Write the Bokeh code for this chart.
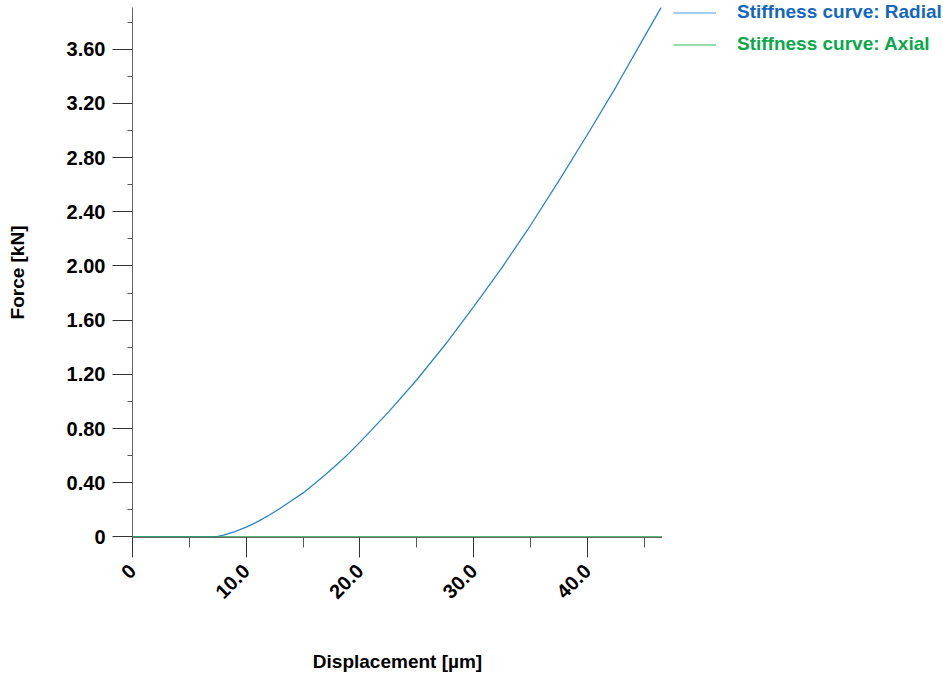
import math
from bokeh.plotting import figure
from bokeh.models import (Range1d, FixedTicker, CustomJSTickFormatter,
                          Legend, LegendItem, Label)
from bokeh.layouts import row, column
from bokeh.embed import file_html
from bokeh.resources import INLINE

# Displacement [µm] and force [kN] values
radial_x = [0, 5, 7, 7.5, 8, 9, 10, 11, 12, 13, 14, 15, 16, 17, 18, 19, 20,
            22.5, 25, 27.5, 30, 32.5, 35, 37.5, 40, 42.5, 45, 46.5]
radial_f = [0, 0, 0, 0.0045, 0.013, 0.039, 0.072, 0.113, 0.160, 0.212, 0.269,
            0.325, 0.392, 0.462, 0.537, 0.615, 0.70,
            0.921, 1.16, 1.42, 1.70, 1.99, 2.30, 2.63, 2.97, 3.32, 3.69, 3.91]
axial_x = [0, 46.6]
axial_f = [0, 0]

x_major = [0, 10, 20, 30, 40]
x_minor = [5, 15, 25, 35, 45]
y_major = [0, 0.4, 0.8, 1.2, 1.6, 2.0, 2.4, 2.8, 3.2, 3.6]
y_minor = [0.2, 0.6, 1.0, 1.4, 1.8, 2.2, 2.6, 3.0, 3.4, 3.8]

series_names = ["Stiffness curve: Radial", "Stiffness curve: Axial"]
line_colors = ["#2a84d2", "#1e9e4c"]
legend_line_colors = ["#4a9be0", "#2fbf5a"]
text_colors = ["#1467c0", "#0aa84a"]
x_title = "Displacement [µm]"
y_title = "Force [kN]"

FONT = "Liberation Sans"
NAN = float("nan")

# ---------------- main chart ----------------
p = figure(width=662, height=640, output_backend="svg", toolbar_location=None,
           x_range=Range1d(0, 46.6), y_range=Range1d(-0.004, 3.907),
           min_border_left=132, min_border_right=0, min_border_top=7,
           min_border_bottom=103)
p.outline_line_color = None
p.grid.grid_line_color = None

r1 = p.line(radial_x, radial_f, line_color=line_colors[0], line_width=1.3)
r2 = p.line(axial_x, axial_f, line_color=line_colors[1], line_width=1.6)

xa = p.xaxis[0]
xa.ticker = FixedTicker(ticks=x_major, minor_ticks=x_minor)
xa.formatter = CustomJSTickFormatter(code="return tick == 0 ? '0' : tick.toFixed(1);")
xa.major_label_orientation = math.pi / 4

ya = p.yaxis[0]
ya.ticker = FixedTicker(ticks=y_major, minor_ticks=y_minor)
ya.formatter = CustomJSTickFormatter(code="return Math.abs(tick) < 1e-9 ? '0' : tick.toFixed(2);")
ya.axis_label = y_title

for ax in (xa, ya):
    ax.axis_line_color = "#666666"
    ax.major_tick_line_color = "#333333"
    ax.minor_tick_line_color = "#555555"
    ax.major_tick_in = 0
    ax.minor_tick_in = 0
    ax.major_tick_out = 20
    ax.major_label_text_font = FONT
    ax.major_label_text_font_style = "bold"
    ax.major_label_text_font_size = "20px"
    ax.major_label_text_color = "black"
    ax.axis_label_text_font = FONT
    ax.axis_label_text_font_style = "bold"
    ax.axis_label_text_font_size = "19px"
    ax.axis_label_text_color = "black"

xa.minor_tick_out = 10
xa.major_label_standoff = 10
ya.minor_tick_out = 5
ya.major_label_standoff = 7
ya.axis_label_standoff = 36

# ---------------- legend panel (one small figure per entry) ----------------
def legend_box(i, h):
    f = figure(width=279, height=h, output_backend="svg", toolbar_location=None,
               x_axis_type=None, y_axis_type=None, x_range=Range1d(0, 1),
               y_range=Range1d(0, 1), min_border=0, min_border_left=11)
    f.outline_line_color = None
    f.grid.grid_line_color = None
    sample = f.line(x=[NAN], y=[NAN], line_color=legend_line_colors[i], line_width=1.2)
    leg = Legend(items=[LegendItem(label=series_names[i], renderers=[sample])],
                 location="top_left", padding=0, margin=0, spacing=0,
                 glyph_width=43, glyph_height=13, label_height=24,
                 label_standoff=21, border_line_color=None,
                 background_fill_alpha=0,
                 label_text_font=FONT, label_text_font_style="bold",
                 label_text_font_size="19px", label_text_color=text_colors[i])
    f.add_layout(leg, "center")
    return f

lg = column(legend_box(0, 32), legend_box(1, 608), spacing=0)

# ---------------- x-axis title strip ----------------
xt = figure(width=662, height=35, output_backend="svg", toolbar_location=None,
            x_axis_type=None, y_axis_type=None, x_range=Range1d(0, 1),
            y_range=Range1d(0, 1), min_border=0)
xt.outline_line_color = None
xt.grid.grid_line_color = None
xt.add_layout(Label(x=397, y=14, x_units="screen", y_units="screen", text=x_title,
                    text_align="center", text_baseline="middle",
                    text_font=FONT, text_font_style="bold",
                    text_font_size="19px", text_color="black"))

layout = column(row(p, lg, spacing=0), xt, spacing=0)
open("out.html", "w").write(file_html(layout, INLINE))
